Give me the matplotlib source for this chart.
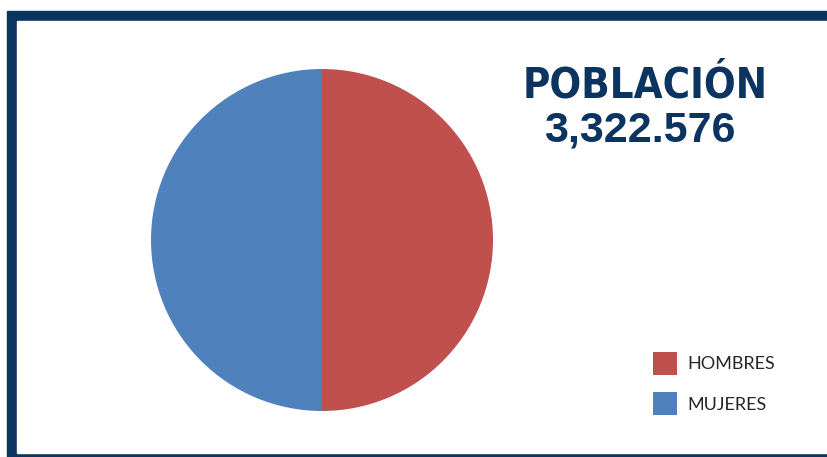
import matplotlib.pyplot as plt
from matplotlib.patches import Rectangle

# Population by sex
labels = ["HOMBRES", "MUJERES"]
values = [1661288, 1661288]
colors = ["#C0504D", "#4F81BD"]
total_label = "3,322.576"

NAVY = "#0B3461"
W, H = 827, 457

fig = plt.figure(figsize=(W / 100, H / 100), dpi=100)
fig.patch.set_facecolor("white")

# --- Frame: thick navy border on the left, top and bottom ---
fig.patches.append(Rectangle((7 / W, -0.1), 1.2, (H - 11) / H + 0.1,
                             transform=fig.transFigure, color=NAVY, zorder=-2))
fig.patches.append(Rectangle((17 / W, (H - 453) / H), 1.2, (453 - 21) / H,
                             transform=fig.transFigure, color="white", zorder=-1))

# --- Pie ---
cx, cy, r = 322, 240, 171
ax = fig.add_axes([(cx - r) / W, (H - cy - r) / H, 2 * r / W, 2 * r / H])
ax.set_zorder(1)
wedges, _ = ax.pie(values, colors=colors, startangle=90, counterclock=False,
                   radius=1, wedgeprops=dict(linewidth=0))
ax.set_xlim(-1, 1)
ax.set_ylim(-1, 1)
ax.set_aspect("equal")
ax.axis("off")

# --- Title ---
fig.text(645 / W, 1 - 98 / H, "POBLACIÓN", ha="center", va="baseline",
         family="DejaVu Sans", fontstretch="condensed", weight="bold",
         color=NAVY, fontsize=30)
fig.text(640 / W, 1 - 142 / H, total_label, ha="center", va="baseline",
         family="Liberation Sans", weight="bold", color=NAVY, fontsize=31)

# --- Legend ---
leg = fig.legend(wedges, labels, loc="upper left",
                 bbox_to_anchor=(653 / W, 1 - 352 / H),
                 frameon=False, borderpad=0, borderaxespad=0,
                 handlelength=1.33, handleheight=1.59, handletextpad=0.55,
                 labelspacing=0.94, prop=dict(family="Lato", size=13))
for t in leg.get_texts():
    t.set_color("#262626")

fig.savefig("out.png", dpi=100)
